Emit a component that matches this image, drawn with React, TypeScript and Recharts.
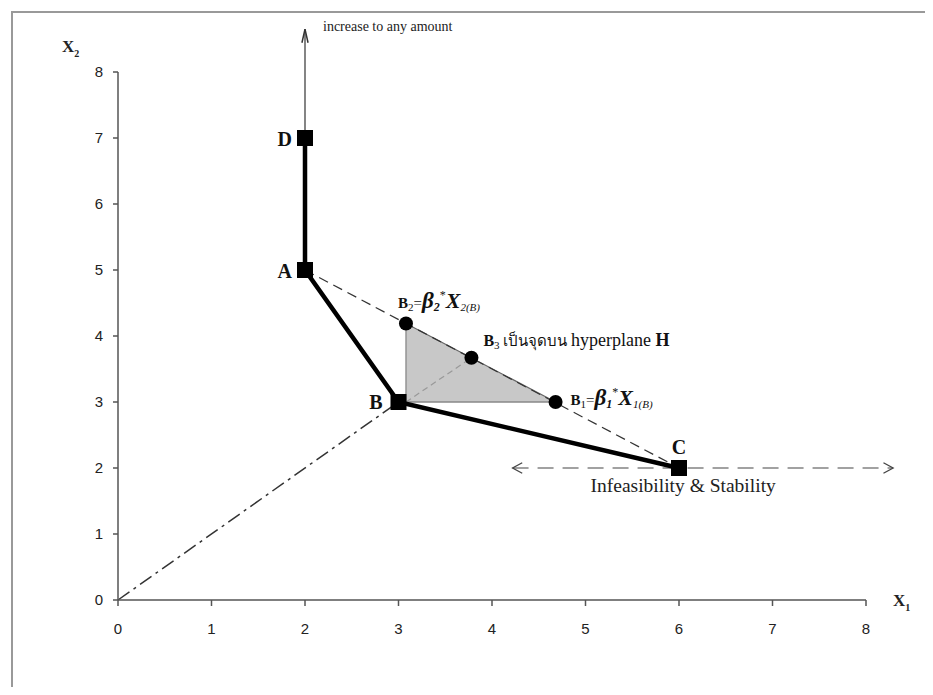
import React from 'react';
import {
  ComposedChart,
  Area,
  Scatter,
  XAxis,
  YAxis,
  ReferenceLine,
} from 'recharts';

// axis ticks
const xTicks = [0, 1, 2, 3, 4, 5, 6, 7, 8];
const yTicks = [0, 1, 2, 3, 4, 5, 6, 7, 8];

// corner points of the piecewise frontier D-A-B-C
const frontierPoints = [
  { name: 'D', x: 2, y: 7 },
  { name: 'A', x: 2, y: 5 },
  { name: 'B', x: 3, y: 3 },
  { name: 'C', x: 6, y: 2 },
];

// projected points on hyperplane H
const hyperplanePoints = [
  { name: 'B2', x: 3.08, y: 4.19 },
  { name: 'B3', x: 3.78, y: 3.67 },
  { name: 'B1', x: 4.68, y: 3 },
];

// shaded triangle B-B2-B1 as a range band
const shadedTriangle = [
  { x: 3.08, band: [3, 4.19] },
  { x: 4.68, band: [3, 3] },
];

const hyperplaneLine = [{ x: 2, y: 5 }, { x: 6, y: 2 }];
const rayFromOrigin = [{ x: 0, y: 0 }, { x: 3, y: 3 }];
const rayToB3 = [{ x: 3.08, y: 3 }, { x: 3.78, y: 3.67 }];
const triangleVertical = [{ x: 3.08, y: 3 }, { x: 3.08, y: 4.19 }];
const triangleBase = [{ x: 3.08, y: 3 }, { x: 4.68, y: 3 }];
const triangleHyp = [{ x: 3.08, y: 4.19 }, { x: 4.68, y: 3 }];
const upwardArrow = [{ x: 2, y: 7 }, { x: 2, y: 8.65 }];
const sideArrow = [{ x: 4.22, y: 2 }, { x: 8.29, y: 2 }];

const SERIF = '"Liberation Serif", "Times New Roman", serif';
const SANS = '"Liberation Sans", Arial, sans-serif';

const cornerLabelPos: Record<string, { dx: number; dy: number; anchor: 'start' | 'middle' | 'end' }> = {
  D: { dx: -13, dy: 8, anchor: 'end' },
  A: { dx: -13, dy: 8, anchor: 'end' },
  B: { dx: -16, dy: 7, anchor: 'end' },
  C: { dx: 0, dy: -14, anchor: 'middle' },
};

const SquareMarker = (props: any) => {
  const { cx, cy, payload } = props;
  const pos = cornerLabelPos[payload.name];
  return (
    <g>
      <rect x={cx - 8} y={cy - 8} width={16} height={16} fill="#000" />
      <text
        x={cx + pos.dx}
        y={cy + pos.dy}
        textAnchor={pos.anchor}
        fontFamily={SERIF}
        fontWeight="bold"
        fontSize={20}
        fill="#111"
      >
        {payload.name}
      </text>
    </g>
  );
};

const BetaLabel = ({ x, y, idx }: { x: number; y: number; idx: string }) => (
  <text x={x} y={y} fontFamily={SERIF} fill="#111">
    <tspan fontSize={15} fontWeight="bold">B</tspan>
    <tspan fontSize={11} dy={3}>{idx}</tspan>
    <tspan fontSize={15} dy={-3}>=</tspan>
    <tspan fontSize={23} fontWeight="bold" fontStyle="italic">β</tspan>
    <tspan fontSize={12} fontWeight="bold" fontStyle="italic" dy={3}>{idx}</tspan>
    <tspan fontSize={12} dy={-12}>*</tspan>
    <tspan fontSize={22} fontWeight="bold" fontStyle="italic" dy={9}>X</tspan>
    <tspan fontSize={11} fontStyle="italic" dy={3}>{idx + '(B)'}</tspan>
  </text>
);

const CircleMarker = (props: any) => {
  const { cx, cy, payload } = props;
  let label: React.ReactNode = null;
  if (payload.name === 'B2') label = <BetaLabel x={cx - 8} y={cy - 15} idx="2" />;
  if (payload.name === 'B1') label = <BetaLabel x={cx + 15} y={cy + 3} idx="1" />;
  if (payload.name === 'B3')
    label = (
      <text x={cx + 12} y={cy - 12} fontFamily={SERIF} fill="#111">
        <tspan fontSize={16} fontWeight="bold">B</tspan>
        <tspan fontSize={11} dy={3}>3</tspan>
        <tspan fontSize={15} dy={-3}>{' เป็นจุดบน '}</tspan>
        <tspan fontSize={18}>{'hyperplane '}</tspan>
        <tspan fontSize={18} fontWeight="bold">H</tspan>
      </text>
    );
  return (
    <g>
      <circle cx={cx} cy={cy} r={7} fill="#000" />
      {label}
    </g>
  );
};

const arrowHead = (x: number, y: number, a: number, len: number, spread: number) => {
  const p1x = x - len * Math.cos(a - spread);
  const p1y = y - len * Math.sin(a - spread);
  const p2x = x - len * Math.cos(a + spread);
  const p2y = y - len * Math.sin(a + spread);
  return `M${p1x},${p1y} L${x},${y} L${p2x},${p2y}`;
};

const upArrowShape = (p: any) => {
  const { x1, y1, x2, y2 } = p;
  const a = Math.atan2(y2 - y1, x2 - x1);
  return (
    <g>
      <line x1={x1} y1={y1} x2={x2} y2={y2} stroke="#333" strokeWidth={1.2} />
      <path d={arrowHead(x2, y2, a, 14, 0.22)} stroke="#333" strokeWidth={1.5} fill="none" />
      <text x={x2 + 18} y={y2 + 2} fontFamily={SERIF} fontSize={14} fill="#222">
        increase to any amount
      </text>
    </g>
  );
};

const sideArrowShape = (p: any) => {
  const { x1, y1, x2, y2 } = p;
  const a = Math.atan2(y2 - y1, x2 - x1);
  return (
    <g>
      <line x1={x1} y1={y1} x2={x2} y2={y2} stroke="#444" strokeWidth={1.2} strokeDasharray="16 9" />
      <path d={arrowHead(x2, y2, a, 11, 0.5)} stroke="#444" strokeWidth={1.3} fill="none" />
      <path d={arrowHead(x1, y1, a + Math.PI, 11, 0.5)} stroke="#444" strokeWidth={1.3} fill="none" />
      <text x={x1 + 78} y={y1 + 24} fontFamily={SERIF} fontSize={19.5} fill="#222">
        Infeasibility &amp; Stability
      </text>
    </g>
  );
};

const x2Title = (props: any) => {
  const { viewBox } = props;
  return (
    <text x={viewBox.x - 16} y={viewBox.y - 20} fontFamily={SERIF} fontWeight="bold" fontSize={17} fill="#222">
      <tspan>X</tspan>
      <tspan fontSize={10} dy={5}>2</tspan>
    </text>
  );
};

const x1Title = (props: any) => {
  const { viewBox } = props;
  return (
    <text x={viewBox.x + viewBox.width + 27} y={viewBox.y + 6} fontFamily={SERIF} fontWeight="bold" fontSize={17} fill="#222">
      <tspan>X</tspan>
      <tspan fontSize={10} dy={5}>1</tspan>
    </text>
  );
};

const App: React.FC = () => {
  return (
    <div style={{ position: 'relative', width: 925, height: 679, overflow: 'hidden', background: '#fff' }}>
      <div
        style={{
          position: 'absolute',
          left: 3,
          top: 3,
          width: 2000,
          height: 2000,
          borderLeft: '2px solid #999',
          borderTop: '2px solid #999',
        }}
      />
      <div style={{ position: 'absolute', left: 0, top: 0 }}>
        <ComposedChart
          width={925}
          height={679}
          data={shadedTriangle}
          margin={{ top: 64, right: 67, left: 70, bottom: 47 }}
        >
          <XAxis
            dataKey="x"
            type="number"
            domain={[0, 8]}
            ticks={xTicks}
            allowDataOverflow
            stroke="#555"
            strokeWidth={1.5}
            tickSize={6}
            tickMargin={17}
            height={40}
            tick={{ fill: '#222', fontSize: 15, fontFamily: SANS }}
            label={x1Title}
          />
          <YAxis
            dataKey="y"
            type="number"
            domain={[0, 8]}
            ticks={yTicks}
            allowDataOverflow
            stroke="#555"
            strokeWidth={1.5}
            tickSize={5}
            tickMargin={10}
            width={40}
            tick={{ fill: '#222', fontSize: 15, fontFamily: SANS }}
            label={x2Title}
          />
          <Area
            dataKey="band"
            type="linear"
            stroke="none"
            fill="#c8c8c8"
            fillOpacity={1}
            isAnimationActive={false}
          />
          <ReferenceLine segment={triangleVertical} stroke="#888" strokeWidth={1.3} />
          <ReferenceLine segment={triangleBase} stroke="#888" strokeWidth={1.3} />
          <ReferenceLine segment={triangleHyp} stroke="#666" strokeWidth={1.2} />
          <ReferenceLine segment={hyperplaneLine} stroke="#333" strokeWidth={1.2} strokeDasharray="10 6" />
          <ReferenceLine segment={rayFromOrigin} stroke="#333" strokeWidth={1.5} strokeDasharray="14 5 3 5" />
          <ReferenceLine segment={rayToB3} stroke="#999" strokeWidth={1.2} strokeDasharray="6 4" />
          <ReferenceLine segment={upwardArrow} ifOverflow="visible" shape={upArrowShape} />
          <ReferenceLine segment={sideArrow} ifOverflow="visible" shape={sideArrowShape} />
          <Scatter
            data={frontierPoints}
            line={{ stroke: '#000', strokeWidth: 4.5 }}
            lineType="joint"
            shape={SquareMarker}
            isAnimationActive={false}
          />
          <Scatter data={hyperplanePoints} shape={CircleMarker} isAnimationActive={false} />
        </ComposedChart>
      </div>
    </div>
  );
};

export default App;
